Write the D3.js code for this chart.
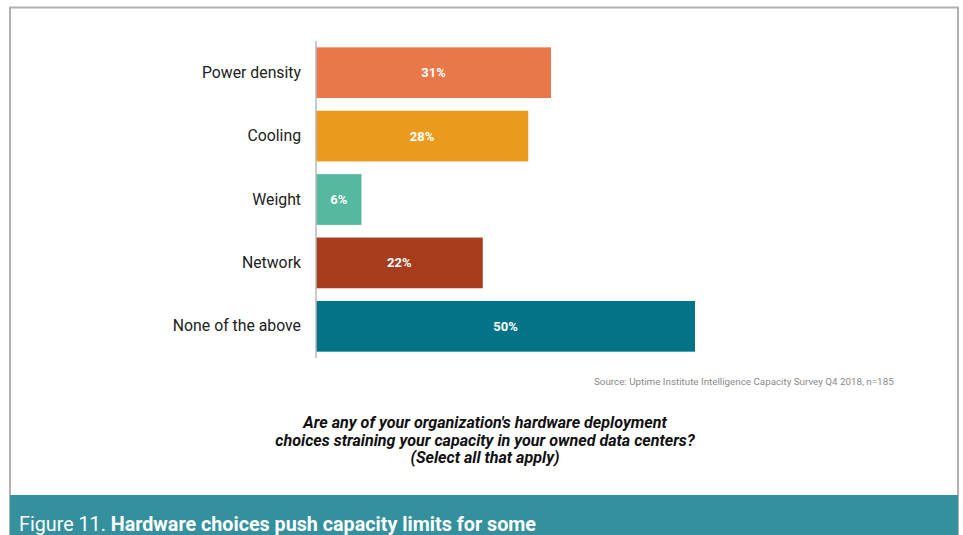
<!DOCTYPE html>
<html>
<head>
<meta charset="utf-8">
<script src="https://cdn.jsdelivr.net/npm/d3@7"></script>
<style>
  html, body { margin: 0; padding: 0; background: #fff; }
  svg { display: block; font-family: Roboto, "Noto Sans", sans-serif; }
</style>
</head>
<body>
<svg id="chart" width="963" height="535"></svg>
<script>
// Survey answers and their shares (percent of respondents)
const categories = ["Power density", "Cooling", "Weight", "Network", "None of the above"];
const values = [31, 28, 6, 22, 50];
const barColors = ["#E8784A", "#EA9B1D", "#55B9A0", "#A83D1D", "#037387"];

const questionLines = [
  "Are any of your organization's hardware deployment",
  "choices straining your capacity in your owned data centers?",
  "(Select all that apply)"
];
const sourceNote = "Source: Uptime Institute Intelligence Capacity Survey Q4 2018, n=185";
const figureNumber = "Figure 11. ";
const figureTitle = "Hardware choices push capacity limits for some";

const svg = d3.select("#chart");

// Outer frame
svg.append("rect")
  .attr("x", 10).attr("y", 7.5)
  .attr("width", 948).attr("height", 540)
  .attr("fill", "#fff")
  .attr("stroke", "#b3b1b0").attr("stroke-width", 2);

// Scales
const x = d3.scaleLinear().domain([0, 50]).range([316, 695]);
const y = d3.scaleBand().domain(categories).range([41, 358]).paddingInner(0.2).paddingOuter(0.1);

// Bars
svg.append("g").selectAll("rect")
  .data(categories)
  .join("rect")
  .attr("x", x(0))
  .attr("y", d => y(d))
  .attr("width", (d, i) => x(values[i]) - x(0))
  .attr("height", y.bandwidth())
  .attr("fill", (d, i) => barColors[i]);

// Category axis on the left
const axis = svg.append("g")
  .attr("transform", `translate(${x(0)},0)`)
  .call(d3.axisLeft(y).tickSize(0).tickPadding(15));
axis.select(".domain").attr("stroke", "#b8b8b8").attr("stroke-width", 1.5)
  .attr("d", `M0,41V358`);
axis.selectAll("text")
  .attr("font-size", 15.8)
  .attr("fill", "#222")
  .attr("font-family", "Roboto, sans-serif");

// Value labels inside the bars
svg.append("g").selectAll("text")
  .data(categories)
  .join("text")
  .attr("x", (d, i) => (x(0) + x(values[i])) / 2)
  .attr("y", d => y(d) + y.bandwidth() / 2)
  .attr("dy", "0.35em")
  .attr("text-anchor", "middle")
  .attr("fill", "#fff")
  .attr("font-weight", "bold")
  .attr("font-size", 13)
  .text((d, i) => values[i] + "%");

// Source note
svg.append("text")
  .attr("x", 594).attr("y", 385)
  .attr("font-size", 9.8)
  .attr("fill", "#8a8a8a")
  .text(sourceNote);

// Survey question
svg.append("g").selectAll("text")
  .data(questionLines)
  .join("text")
  .attr("x", 485)
  .attr("y", (d, i) => 428 + i * 17.5)
  .attr("text-anchor", "middle")
  .attr("font-size", 16.1)
  .attr("font-weight", "bold")
  .attr("font-style", "italic")
  .attr("fill", "#111")
  .text(d => d);

// Figure caption band
svg.append("rect")
  .attr("x", 10).attr("y", 495)
  .attr("width", 948).attr("height", 40)
  .attr("fill", "#35909D");

const caption = svg.append("text")
  .attr("x", 19).attr("y", 531)
  .attr("font-size", 20)
  .attr("fill", "#fff")
  .attr("textLength", 517)
  .attr("lengthAdjust", "spacingAndGlyphs");
caption.append("tspan").text(figureNumber);
caption.append("tspan").attr("font-weight", "bold").text(figureTitle);
</script>
</body>
</html>
